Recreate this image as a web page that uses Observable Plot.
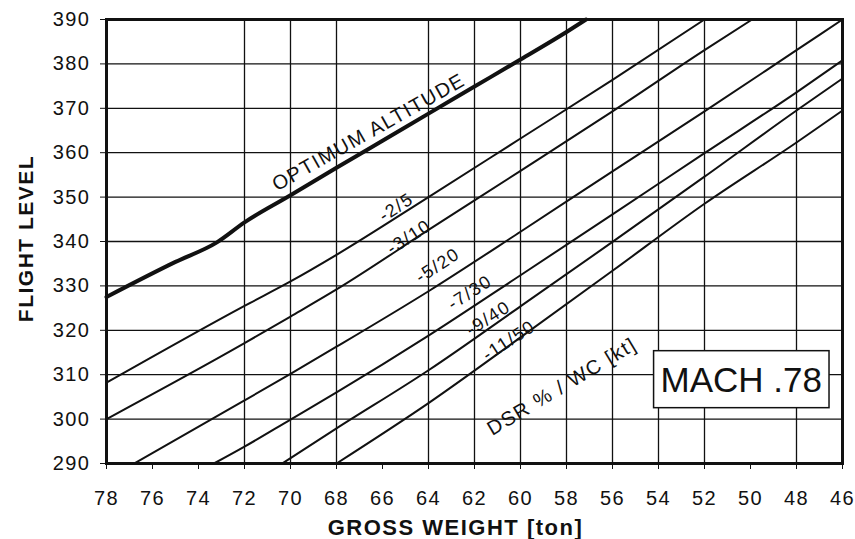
<!DOCTYPE html>
<html>
<head>
<meta charset="utf-8">
<script src="https://cdn.jsdelivr.net/npm/d3@7"></script>
<script src="https://cdn.jsdelivr.net/npm/@observablehq/plot@0.6"></script>
<style>
  body { margin: 0; background: #fff; }
  #chart { width: 855px; height: 539px; }
</style>
</head>
<body>
<div id="chart"></div>
<script>
// ---- axis ticks and grid ----
const xTicks = [78, 76, 74, 72, 70, 68, 66, 64, 62, 60, 58, 56, 54, 52, 50, 48, 46];
const yTicks = [290, 300, 310, 320, 330, 340, 350, 360, 370, 380, 390];
const xGrid = [72, 70, 68, 64, 62, 60, 58, 56, 54, 52, 48];
const yGrid = [300, 310, 320, 330, 340, 350, 360, 370, 380];

// ---- curves: [gross weight (ton), flight level] ----
const optimum = [[78, 327.5], [75, 335.4], [73.2, 339.8], [72, 344.3], [70, 350.4], [68, 356.6], [66, 362.7], [64, 368.8], [62, 374.9], [60, 381], [58, 387.2], [57.15, 390]];
const dsr2_5 = [[78, 308.2], [72, 325.5], [70, 331], [68, 337], [64, 350], [60, 363.2], [56, 376.4], [52, 390]];
const dsr3_10 = [[78, 300], [72, 317.1], [70, 323.1], [68, 329.2], [64, 342.6], [60, 355.9], [56, 369.3], [52, 383.1], [49.93, 390]];
const dsr5_20 = [[76.8, 290], [72, 304.2], [70, 310.2], [68, 316.3], [64, 328.8], [60, 342.2], [56, 355.8], [52, 369.3], [48, 383.1], [46, 390]];
const dsr7_30 = [[73.33, 290], [72, 293.8], [70, 299.9], [68, 306], [64, 318.8], [60, 332.4], [56, 346.1], [52, 359.9], [48, 373.6], [46, 380.8]];
const dsr9_40 = [[70.36, 290], [68, 297.9], [64, 311], [60, 325.4], [56, 339.9], [52, 354.6], [48, 369.5], [46, 376.7]];
const dsr11_50 = [[68, 290], [64, 303.6], [60, 318.4], [56, 333.4], [52, 348.5], [48, 362.3], [46, 369.5]];

// ---- labels ----
const dsrLabels = ["-2/5", "-3/10", "-5/20", "-7/30", "-9/40", "-11/50"];
const dsrLabelGW = [65.4, 64.85, 63.6, 62.2, 61.4, 60.5];
const dsrLabelFL = [347.7, 341.0, 334.6, 328.5, 322.7, 317.7];
const optLabel = ["OPTIMUM ALTITUDE"];
const optLabelGW = [66.6];
const optLabelFL = [364.6];
const dsrTitle = ["DSR % / WC [kt]"];
const dsrTitleGW = [58.2];
const dsrTitleFL = [307.3];
const machLabel = ["MACH .78"];
const machGW = [50.4];
const machFL = [308.7];
const xTitle = ["GROSS WEIGHT [ton]"];
const yTitle = ["FLIGHT LEVEL"];

const ink = "#111";
const lineStyle = {x: d => d[0], y: d => d[1], stroke: ink, strokeWidth: 2, curve: "monotone-x"};

const svg = Plot.plot({
  width: 855,
  height: 539,
  marginLeft: 106,
  marginRight: 13,
  marginTop: 19,
  marginBottom: 76,
  style: {fontFamily: "'Liberation Sans', Arial, sans-serif", fontSize: "20px", color: ink, background: "#fff", letterSpacing: "1.5px"},
  x: {domain: [78, 46]},
  y: {domain: [290, 390]},
  marks: [
    Plot.ruleX(xGrid, {stroke: ink, strokeWidth: 1.3}),
    Plot.ruleY(yGrid, {stroke: ink, strokeWidth: 1.3}),
    Plot.line(dsr2_5, lineStyle),
    Plot.line(dsr3_10, lineStyle),
    Plot.line(dsr5_20, lineStyle),
    Plot.line(dsr7_30, lineStyle),
    Plot.line(dsr9_40, lineStyle),
    Plot.line(dsr11_50, lineStyle),
    Plot.line(optimum, {x: d => d[0], y: d => d[1], stroke: ink, strokeWidth: 4, curve: "monotone-x"}),
    Plot.frame({stroke: ink, strokeWidth: 3}),
    Plot.axisX(xTicks, {tickSize: 6, tickPadding: 21, fontSize: 20, label: null, stroke: ink}),
    Plot.axisY(yTicks, {tickSize: 6, tickPadding: 10, fontSize: 20, label: null, stroke: ink}),
    Plot.text(optLabel, {x: optLabelGW, y: optLabelFL, text: d => d, rotate: -29.5, fontSize: 20, fill: ink}),
    Plot.text(dsrLabels, {x: dsrLabelGW, y: dsrLabelFL, text: d => d, rotate: -33, fontSize: 18, fill: ink}),
    Plot.text(dsrTitle, {x: dsrTitleGW, y: dsrTitleFL, text: d => d, rotate: -31, fontSize: 20, fill: ink}),
    Plot.text(machLabel, {x: machGW, y: machFL, text: d => d, fontSize: 35, fill: ink}),
    Plot.text(xTitle, {frameAnchor: "bottom", lineAnchor: "middle", textAnchor: "middle", dx: -19, dy: 64, text: d => d, fontSize: 22, fontWeight: "bold", fill: ink}),
    Plot.text(yTitle, {frameAnchor: "left", lineAnchor: "middle", textAnchor: "middle", dx: -80, dy: -3, rotate: -90, text: d => d, fontSize: 21, fontWeight: "bold", fill: ink})
  ]
});

document.getElementById("chart").appendChild(svg);

// white box with border behind the MACH label
const mt = Array.from(svg.querySelectorAll("text")).find(t => t.textContent === machLabel[0]);
if (mt) {
  mt.style.letterSpacing = "0px";
  const bb = mt.getBBox();
  const r = document.createElementNS("http://www.w3.org/2000/svg", "rect");
  r.setAttribute("x", bb.x - 7);
  r.setAttribute("y", bb.y - 9);
  r.setAttribute("width", bb.width + 14);
  r.setAttribute("height", bb.height + 18);
  r.setAttribute("fill", "#fff");
  r.setAttribute("stroke", ink);
  r.setAttribute("stroke-width", 1.5);
  if (mt.getAttribute("transform")) r.setAttribute("transform", mt.getAttribute("transform"));
  mt.parentNode.insertBefore(r, mt);
}
</script>
</body>
</html>
